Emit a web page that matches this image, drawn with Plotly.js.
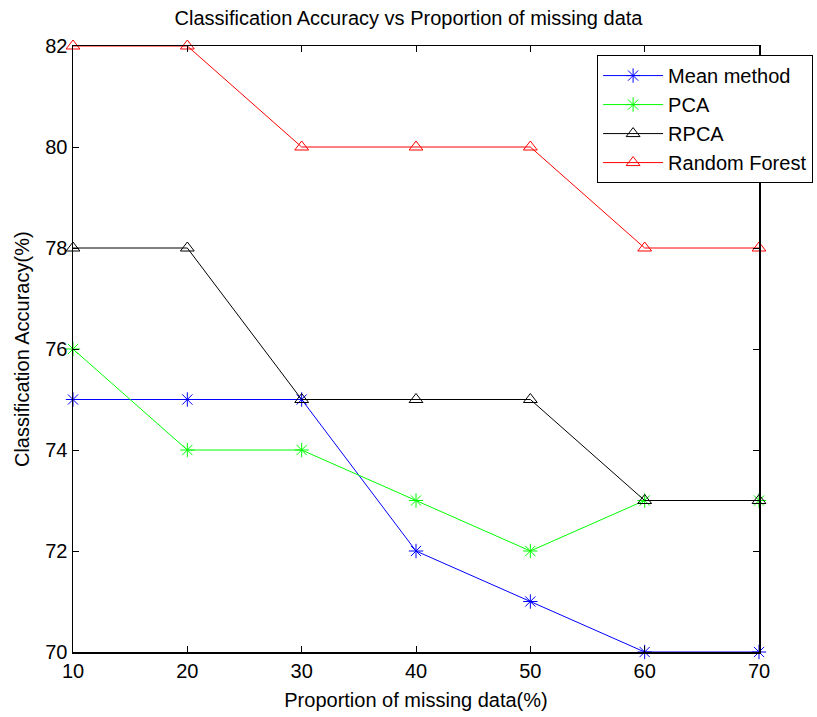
<!DOCTYPE html>
<html>
<head>
<meta charset="utf-8">
<script src="https://cdn.plot.ly/plotly-3.0.1.min.js"></script>
<style>html,body{margin:0;padding:0;background:#fff;}</style>
</head>
<body>
<div id="chart" style="width:817px;height:717px;"></div>
<script>
const proportions = [10, 20, 30, 40, 50, 60, 70];
const meanMethod = [75, 75, 75, 72, 71, 70, 70];
const pca = [76, 74, 74, 73, 72, 73, 73];
const rpca = [78, 78, 75, 75, 75, 73, 73];
const randomForest = [82, 82, 80, 80, 80, 78, 78];
const xTicks = [10, 20, 30, 40, 50, 60, 70];
const yTicks = [70, 72, 74, 76, 78, 80, 82];

function series(name, y, color, symbol) {
  return {
    x: proportions, y: y, name: name, type: 'scatter', mode: 'lines+markers',
    cliponaxis: false,
    line: {color: color, width: 1},
    marker: {symbol: symbol, size: 12, color: color, line: {color: color, width: 1}}
  };
}

const data = [
  series('Mean method', meanMethod, '#0000ff', 'asterisk-open'),
  series('PCA', pca, '#00ff00', 'asterisk-open'),
  series('RPCA', rpca, '#000000', 'triangle-up-open'),
  series('Random Forest', randomForest, '#ff0000', 'triangle-up-open')
];

const font = {family: 'Liberation Sans, Arial, sans-serif', size: 20, color: '#000'};

const layout = {
  width: 817, height: 717,
  margin: {l: 73, r: 58, t: 46, b: 65, autoexpand: false},
  paper_bgcolor: '#fff', plot_bgcolor: '#fff',
  font: font,
  showlegend: true,
  title: {text: 'Classification Accuracy vs Proportion of missing data', font: {size: 20}, x: 0.5, xanchor: 'center', y: 0.975, yanchor: 'middle'},
  xaxis: {
    range: [10, 70], tickvals: xTicks, ticktext: xTicks.map(String),
    ticks: 'inside', ticklen: 6, tickcolor: '#000', showline: true, linecolor: '#000', linewidth: 1.5,
    mirror: 'ticks', showgrid: false, zeroline: false, tickfont: {size: 20},
    title: {text: 'Proportion of missing data(%)', font: {size: 20}, standoff: 12}
  },
  yaxis: {
    range: [70, 82], tickvals: yTicks, ticktext: yTicks.map(String),
    ticks: 'inside', ticklen: 6, tickcolor: '#000', showline: true, linecolor: '#000', linewidth: 1.5,
    mirror: 'ticks', showgrid: false, zeroline: false, tickfont: {size: 20}
  },
  annotations: [{
    text: 'Classification Accuracy(%)', textangle: -90, showarrow: false,
    xref: 'paper', yref: 'paper', x: -0.0743, y: 0.5, xanchor: 'center', yanchor: 'middle',
    font: {size: 20}
  }],
  legend: {
    x: 0.764, y: 0.985, xanchor: 'left', yanchor: 'top',
    bgcolor: '#fff', bordercolor: '#000', borderwidth: 1,
    font: {size: 20}, tracegroupgap: 0, itemwidth: 60
  }
};

Plotly.newPlot('chart', data, layout, {displayModeBar: false, staticPlot: true});
</script>
</body>
</html>
